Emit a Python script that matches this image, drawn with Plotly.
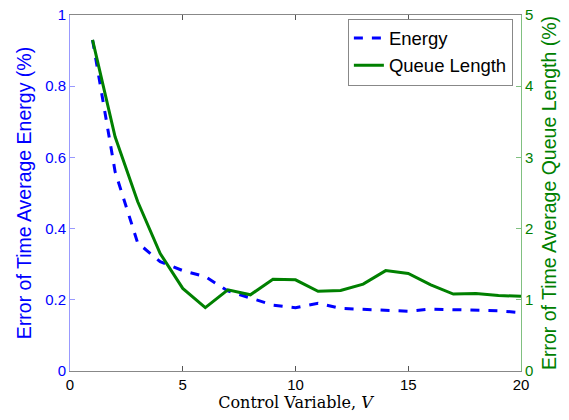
import plotly.graph_objects as go

V = list(range(1, 21))
energy = [0.93, 0.56, 0.36, 0.307, 0.282, 0.265, 0.225, 0.204, 0.185, 0.178,
          0.19, 0.176, 0.173, 0.169, 0.168, 0.174, 0.173, 0.171, 0.169, 0.164]
queue = [4.65, 3.29, 2.38, 1.65, 1.16, 0.89, 1.14, 1.07, 1.29, 1.28,
         1.12, 1.13, 1.22, 1.41, 1.37, 1.21, 1.08, 1.09, 1.06, 1.05]

x_ticks = [0, 5, 10, 15, 20]
left_ticks = [0, 0.2, 0.4, 0.6, 0.8, 1]
left_labels = ["0", "0.2", "0.4", "0.6", "0.8", "1"]
right_ticks = [0, 1, 2, 3, 4, 5]

BLUE = "#0000FF"
GREEN = "#008000"
FONT = "Liberation Sans, Arial, sans-serif"

fig = go.Figure()
fig.add_trace(go.Scatter(x=V, y=energy, name="Energy", mode="lines",
                         line=dict(color=BLUE, width=3, dash="dash"), yaxis="y"))
fig.add_trace(go.Scatter(x=V, y=queue, name="Queue Length", mode="lines",
                         line=dict(color=GREEN, width=3), yaxis="y2"))

fig.update_layout(
    width=569, height=420,
    margin=dict(l=70, r=48, t=15, b=49),
    paper_bgcolor="white", plot_bgcolor="white",
    font=dict(family=FONT, size=15, color="black"),
    xaxis=dict(range=[0, 20], tickvals=x_ticks, ticks="inside", ticklen=5,
               tickcolor="#555", showline=True, linecolor="#888", linewidth=1,
               mirror="ticks", showgrid=False, zeroline=False, automargin=False,
               tickfont=dict(size=15, color="black"),
               title=dict(text="Control Variable, <i>V</i>",
                          font=dict(family="DejaVu Serif, Liberation Serif, serif", size=16),
                          standoff=0)),
    yaxis=dict(range=[0, 1], tickvals=left_ticks, ticktext=left_labels,
               ticks="inside", ticklen=5, tickcolor="#9999ff",
               showline=True, linecolor="#9999ff", linewidth=1,
               showgrid=False, zeroline=False, automargin=False,
               tickfont=dict(size=15, color=BLUE),
               title=dict(text="Error of Time Average Energy (%)",
                          font=dict(size=19.5, color=BLUE), standoff=8)),
    yaxis2=dict(range=[0, 5], tickvals=right_ticks, overlaying="y", side="right",
                ticks="inside", ticklen=5, tickcolor="#80c080",
                showline=True, linecolor="#80c080", linewidth=1,
                showgrid=False, zeroline=False, automargin=False,
                tickfont=dict(size=15, color=GREEN),
                title=dict(text="Error of Time Average Queue Length (%)",
                           font=dict(size=19.5, color=GREEN), standoff=10)),
    legend=dict(x=0.982, y=0.99, xanchor="right", yanchor="top",
                bgcolor="white", bordercolor="#888", borderwidth=1,
                font=dict(size=18.5, color="black"), tracegroupgap=0,
                itemwidth=30),
    showlegend=True,
)

fig.write_html("out.html", config={"displayModeBar": False},
               post_script="document.body.style.margin='0';")
